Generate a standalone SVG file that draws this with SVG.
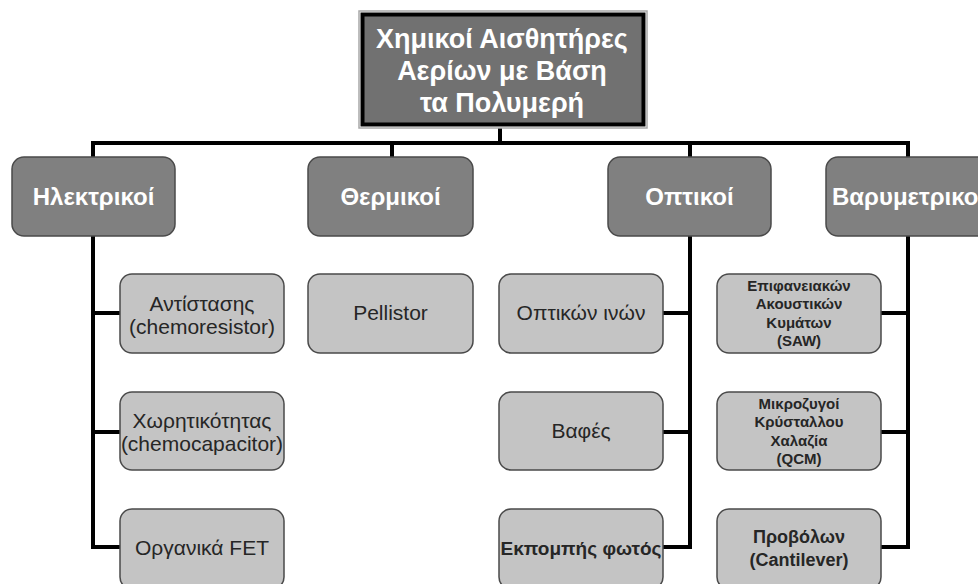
<svg xmlns="http://www.w3.org/2000/svg" width="978" height="584" viewBox="0 0 978 584">
<style>
.l1 rect{fill:#808080;stroke:#4a4a4a;stroke-width:1.5}
.l1 text{fill:#ffffff;font-family:"Liberation Sans",Arial,sans-serif;font-weight:bold;font-size:24px;text-anchor:middle}
.l2 rect{fill:#c4c4c4;stroke:#4a4a4a;stroke-width:1.5}
.l2 text{fill:#262626;font-family:"Liberation Sans",Arial,sans-serif;font-size:21px;text-anchor:middle}
.l2 text.sm{font-size:15px;font-weight:bold}
.l2 text.b{font-weight:bold;font-size:19px}
.conn path{fill:none;stroke:#000;stroke-width:4}
</style>
<rect width="978" height="584" fill="#ffffff"/>
<g class="conn" id="connectors">
<path d="M500,128 V143"/>
<path d="M93,157 V143 H908 V157"/>
<path d="M392,143 V157"/>
<path d="M690,143 V157"/>
<path d="M93,236 V547 H120 M93,313 H120 M93,432 H120"/>
<path d="M690,236 V547 H663 M690,313 H663 M690,432 H663"/>
<path d="M908,236 V547 H881 M908,313 H881 M908,432 H881"/>
</g>
<g id="root">
<rect x="359" y="11" width="288" height="117" fill="none" stroke="#a8a8a8" stroke-width="1.5"/>
<rect x="362.5" y="14.5" width="281" height="110" fill="#717171" stroke="#000" stroke-width="4"/>
<g fill="#ffffff" font-family="'Liberation Sans',Arial,sans-serif" font-weight="bold" font-size="27" text-anchor="middle">
<text x="502" y="48">Χημικοί Αισθητήρες</text>
<text x="502" y="80">Αερίων με Βάση</text>
<text x="502" y="112">τα Πολυμερή</text>
</g>
</g>
<g class="l1" id="n-ilektrikoi"><rect x="12" y="157" width="163" height="79" rx="12"/><text x="93.5" y="205">Ηλεκτρικοί</text></g>
<g class="l1" id="n-thermikoi"><rect x="308" y="157" width="165" height="79" rx="12"/><text x="390.5" y="205">Θερμικοί</text></g>
<g class="l1" id="n-optikoi"><rect x="608" y="157" width="163" height="79" rx="12"/><text x="689.5" y="205">Οπτικοί</text></g>
<g class="l1" id="n-varymetrikoi"><rect x="826" y="157" width="170" height="79" rx="12"/><text x="832" y="205" style="text-anchor:start">Βαρυμετρικο</text></g>
<g class="l2" id="n-antistasis"><rect x="120" y="274" width="164" height="79" rx="12"/><text x="202" y="311">Αντίστασης</text><text x="202" y="334">(chemoresistor)</text></g>
<g class="l2" id="n-chorit"><rect x="120" y="392" width="164" height="78" rx="12"/><text x="202" y="428">Χωρητικότητας</text><text x="202" y="451">(chemocapacitor)</text></g>
<g class="l2" id="n-fet"><rect x="120" y="509" width="164" height="80" rx="12"/><text x="202" y="555">Οργανικά FET</text></g>
<g class="l2" id="n-pellistor"><rect x="308" y="274" width="165" height="79" rx="12"/><text x="390.5" y="320">Pellistor</text></g>
<g class="l2" id="n-optikon"><rect x="499" y="274" width="164" height="79" rx="12"/><text x="581" y="320">Οπτικών ινών</text></g>
<g class="l2" id="n-vafes"><rect x="499" y="392" width="164" height="78" rx="12"/><text x="581" y="438">Βαφές</text></g>
<g class="l2" id="n-ekpompis"><rect x="499" y="509" width="164" height="80" rx="12"/><text class="b" x="581" y="555">Εκπομπής φωτός</text></g>
<g class="l2" id="n-saw"><rect x="717" y="274" width="164" height="79" rx="12"/><text class="sm" x="799" y="291">Επιφανειακών</text><text class="sm" x="799" y="309">Ακουστικών</text><text class="sm" x="799" y="328">Κυμάτων</text><text class="sm" x="799" y="346">(SAW)</text></g>
<g class="l2" id="n-qcm"><rect x="717" y="392" width="164" height="78" rx="12"/><text class="sm" x="799" y="409">Μικροζυγοί</text><text class="sm" x="799" y="427">Κρύσταλλου</text><text class="sm" x="799" y="446">Χαλαζία</text><text class="sm" x="799" y="464">(QCM)</text></g>
<g class="l2" id="n-cantilever"><rect x="717" y="509" width="164" height="80" rx="12"/><text x="799" y="543" style="font-weight:bold;font-size:18px">Προβόλων</text><text x="799" y="566" style="font-weight:bold;font-size:18px">(Cantilever)</text></g>
</svg>
